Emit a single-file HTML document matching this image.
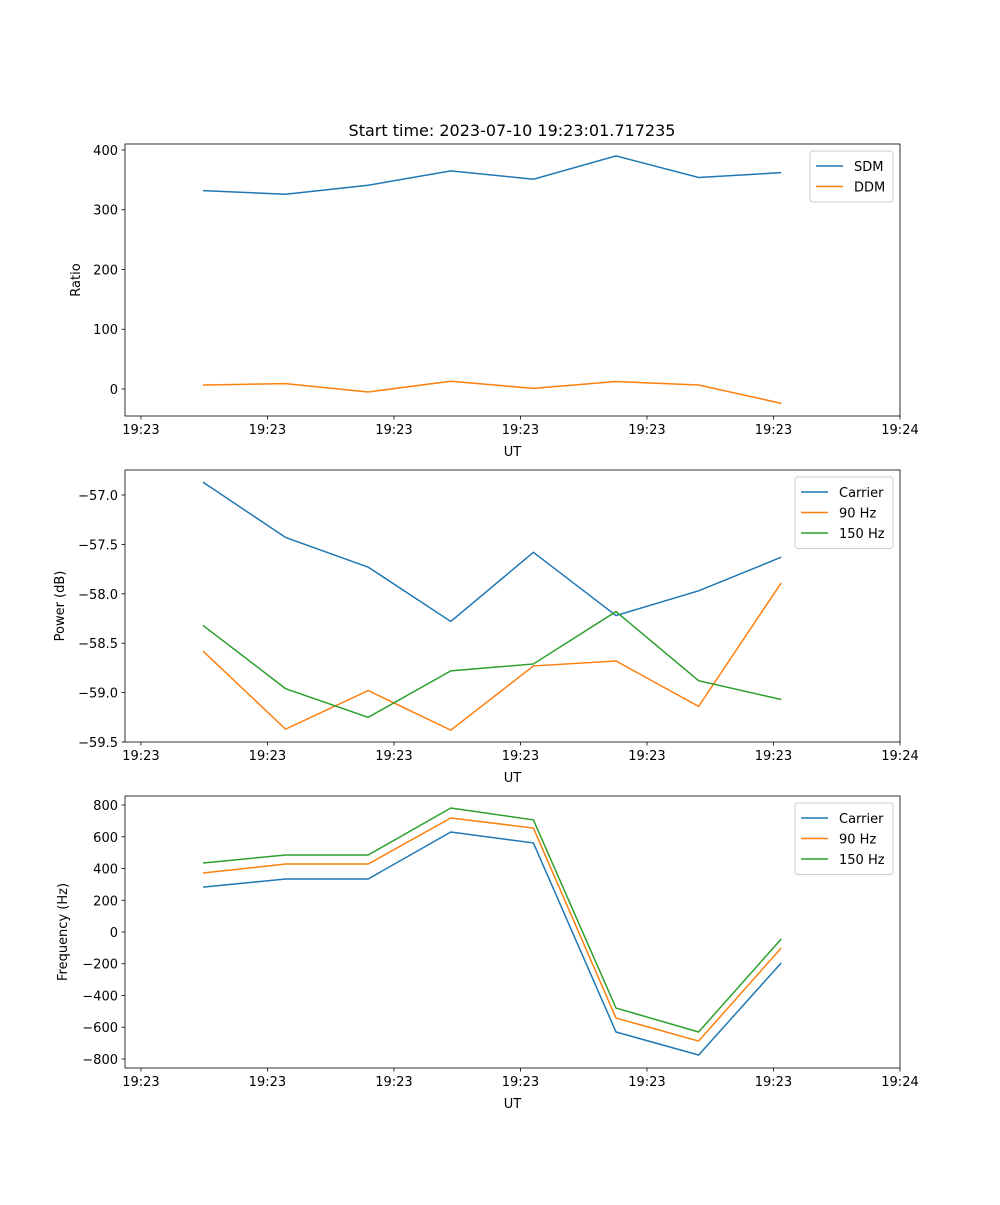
<!DOCTYPE html>
<html><head><meta charset="utf-8">
<style>
body{margin:0;background:#fff;}
svg text{font-family:"DejaVu Sans","Liberation Sans",sans-serif;font-size:13px;fill:#000;}
</style></head>
<body>
<svg id="fig" width="1000" height="1200" xmlns="http://www.w3.org/2000/svg">
<rect width="1000" height="1200" fill="#fff"/>
<text x="512" y="136" text-anchor="middle" style="font-size:16px">Start time: 2023-07-10 19:23:01.717235</text>
</svg>
<script>
const xIdx = [0,1,2,3,4,5,6,7];
const xTickPos = [-0.751,0.780,2.312,3.843,5.375,6.906,8.438];
const xTickLabels = ["19:23","19:23","19:23","19:23","19:23","19:23","19:24"];
const sdm = [332,326,341,365,351,390,354,362];
const ddm = [6.7,9,-5,13,1,12.5,6.7,-24];
const powCarrier = [-56.87,-57.43,-57.73,-58.28,-57.58,-58.22,-57.97,-57.63];
const pow90 = [-58.58,-59.37,-58.98,-59.38,-58.73,-58.68,-59.14,-57.89];
const pow150 = [-58.32,-58.96,-59.25,-58.78,-58.71,-58.18,-58.88,-59.07];
const freqCarrier = [283,334,334,630,561,-630,-775,-195];
const freq90 = [372,428,428,718,655,-542,-687,-101];
const freq150 = [435,485,485,781,706,-479,-630,-44];
const yTicks1 = [0,100,200,300,400];
const yTicks2 = [-59.5,-59.0,-58.5,-58.0,-57.5,-57.0];
const yTicks3 = [-800,-600,-400,-200,0,200,400,600,800];

const NS="http://www.w3.org/2000/svg";
const svg=document.getElementById('fig');
const L=125,R=900,XMIN=-0.944,XMAX=8.438;
const C=['#1f77b4','#ff7f0e','#2ca02c'];
function mk(tag,attrs,parent){const e=document.createElementNS(NS,tag);for(const k in attrs)e.setAttribute(k,attrs[k]);(parent||svg).appendChild(e);return e;}
const xs=v=>L+(v-XMIN)/(XMAX-XMIN)*(R-L);

function panel(name,top,bot,ymin,ymax,yTicks,yFmt,ylabel,series,labels,legendW){
  const g=mk('g',{});
  
  
  const ys=v=>bot-(v-ymin)/(ymax-ymin)*(bot-top);
  series.forEach((s,i)=>{
    const p=mk('polyline',{points:s.map((v,j)=>xs(xIdx[j])+','+ys(v)).join(' '),fill:'none',stroke:C[i],'stroke-width':1.5},g);
    
    
  });
  const fr=mk('rect',{x:L,y:top,width:R-L,height:bot-top,fill:'none',stroke:'#000','stroke-width':0.8},g);
  
  
  xTickPos.forEach((t,i)=>{
    const x=xs(t);
    mk('line',{x1:x,x2:x,y1:bot,y2:bot+3.5,stroke:'#000','stroke-width':0.8},g);
    const tx=mk('text',{x:x,y:bot+18,'text-anchor':'middle'},g);tx.textContent=xTickLabels[i];
    
    
  });
  yTicks.forEach(t=>{
    const y=ys(t);
    mk('line',{x1:L-3.5,x2:L,y1:y,y2:y,stroke:'#000','stroke-width':0.8},g);
    const tx=mk('text',{x:L-7,y:y+5,'text-anchor':'end'},g);tx.textContent=yFmt(t).replace('-','\u2212');
    
    
  });
  const xl=mk('text',{x:(L+R)/2,y:bot+40,'text-anchor':'middle'},g);xl.textContent='UT';
  
  
  const yl=mk('text',{x:0,y:0,'text-anchor':'middle',transform:`translate(${ylabel[1]},${(top+bot)/2}) rotate(-90)`},g);yl.textContent=ylabel[0];
  
  
  const lx=R-7-legendW, ly=top+7, lh=10+labels.length*20.5;
  const lg=mk('g',{},g);
  
  
  mk('rect',{x:lx,y:ly,width:legendW,height:lh,rx:3,fill:'#fff','fill-opacity':0.8,stroke:'#ccc','stroke-width':1},lg);
  labels.forEach((lab,i)=>{
    const y=ly+15+i*20.5;
    mk('line',{x1:lx+6,x2:lx+33,y1:y,y2:y,stroke:C[i],'stroke-width':1.5},lg);
    const t=mk('text',{x:lx+44,y:y+5},lg);t.textContent=lab;
    
    
  });
}
panel('ratio-panel',144,416,-45.2,410,yTicks1,v=>String(v),['Ratio',80],[sdm,ddm],['SDM','DDM'],83);
panel('power-panel',470,742,-59.5,-56.747,yTicks2,v=>v.toFixed(1),['Power (dB)',64],[powCarrier,pow90,pow150],['Carrier','90 Hz','150 Hz'],98);
panel('frequency-panel',796,1068,-856.7,856.7,yTicks3,v=>String(v),['Frequency (Hz)',67],[freqCarrier,freq90,freq150],['Carrier','90 Hz','150 Hz'],98);
</script>
</body></html>
